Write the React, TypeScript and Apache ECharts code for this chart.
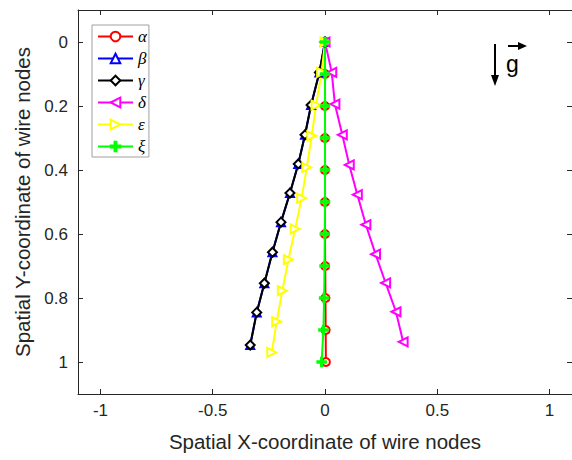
import React, { useEffect, useRef } from "react";
import * as echarts from "echarts";

const xTicks = [-1, -0.5, 0, 0.5, 1];
const yTicks = [0, 0.2, 0.4, 0.6, 0.8, 1];

const seriesNames = ["α", "β", "γ", "δ", "ε", "ξ"];

const alphaX = [0, 0, 0, 0, 0, 0, 0, 0.001, 0.002, 0.003, 0.004];
const alphaY = [0, 0.1, 0.2, 0.3, 0.4, 0.5, 0.6, 0.7, 0.8, 0.9, 1.0];
const betaX = [0, -0.025, -0.062, -0.089, -0.119, -0.156, -0.196, -0.234, -0.27, -0.304, -0.333];
const betaY = [0, 0.095, 0.197, 0.29, 0.381, 0.472, 0.563, 0.657, 0.754, 0.845, 0.947];
const gammaX = [0, -0.025, -0.062, -0.089, -0.119, -0.156, -0.196, -0.234, -0.27, -0.304, -0.333];
const gammaY = [0, 0.095, 0.197, 0.29, 0.381, 0.472, 0.563, 0.657, 0.754, 0.845, 0.947];
const deltaX = [0, 0.03, 0.044, 0.077, 0.108, 0.144, 0.182, 0.225, 0.27, 0.316, 0.348];
const deltaY = [0, 0.095, 0.194, 0.29, 0.384, 0.477, 0.571, 0.663, 0.753, 0.843, 0.937];
const epsX = [0, -0.015, -0.04, -0.059, -0.081, -0.104, -0.133, -0.163, -0.19, -0.215, -0.237];
const epsY = [0, 0.095, 0.197, 0.293, 0.392, 0.488, 0.584, 0.68, 0.777, 0.874, 0.97];
const xiX = [0, 0, 0, 0, 0, 0, -0.001, -0.002, -0.004, -0.007, -0.015];
const xiY = [0, 0.1, 0.2, 0.3, 0.4, 0.5, 0.6, 0.7, 0.8, 0.9, 1.0];

const PLUS = "path://M4,0H6V4H10V6H6V10H4V6H0V4H4Z";

function zip(xs: number[], ys: number[]) {
  return xs.map((x, i) => [x, ys[i]]);
}

export default function App() {
  const ref = useRef<HTMLDivElement>(null);
  useEffect(() => {
    if (!ref.current) return;
    const chart = echarts.init(ref.current, null, { renderer: "svg" });
    const axisColor = "#262626";
    const mk = (
      name: string,
      xs: number[],
      ys: number[],
      color: string,
      symbol: string,
      rotate = 0,
      size = 8
    ) => ({
      type: "line",
      name,
      data: zip(xs, ys),
      symbol,
      symbolSize: size,
      symbolRotate: rotate,
      showAllSymbol: true,
      lineStyle: { color, width: 2 },
      itemStyle: { color, borderColor: color, borderWidth: 1.5 },
      emphasis: { disabled: true },
    });
    const axisCommon = {
      axisLine: { show: true, onZero: false, lineStyle: { color: axisColor, width: 1 } },
      splitLine: { show: false },
    };
    chart.setOption({
      animation: false,
      backgroundColor: "#ffffff",
      grid: { left: 78, right: 0, top: 10, bottom: 66, containLabel: false },
      legend: {
        orient: "vertical",
        left: 92,
        top: 25,
        data: seriesNames,
        itemWidth: 35,
        itemHeight: 12,
        itemGap: 5,
        padding: [3, 2, 2, 5],
        borderColor: "#a0a0a0",
        borderWidth: 1,
        backgroundColor: "#ffffff",
        textStyle: {
          fontFamily: "Liberation Serif",
          fontStyle: "italic",
          fontSize: 17,
          lineHeight: 15,
          color: "#000",
        },
      },
      xAxis: [
        {
          type: "value",
          min: -1.1,
          max: 1.1,
          position: "bottom",
          ...axisCommon,
          axisTick: { show: true, inside: true, length: 5, customValues: xTicks, lineStyle: { color: axisColor } },
          axisLabel: {
            customValues: xTicks,
            color: axisColor,
            fontSize: 17,
            fontFamily: "Liberation Sans",
            margin: 8,
          },
          name: "Spatial X-coordinate of wire nodes",
          nameLocation: "middle",
          nameGap: 37,
          nameTextStyle: { color: axisColor, fontSize: 20.5, fontFamily: "Liberation Sans" },
        },
        {
          type: "value",
          min: -1.1,
          max: 1.1,
          position: "top",
          ...axisCommon,
          axisTick: { show: true, inside: true, length: 5, customValues: xTicks, lineStyle: { color: axisColor } },
          axisLabel: { show: false },
        },
      ],
      yAxis: [
        {
          type: "value",
          min: -0.1,
          max: 1.1,
          inverse: true,
          position: "left",
          ...axisCommon,
          axisTick: { show: true, inside: true, length: 5, customValues: yTicks, lineStyle: { color: axisColor } },
          axisLabel: {
            customValues: yTicks,
            color: axisColor,
            fontSize: 17,
            fontFamily: "Liberation Sans",
            margin: 10,
          },
          name: "Spatial Y-coordinate of wire nodes",
          nameLocation: "middle",
          nameGap: 40,
          nameTextStyle: { color: axisColor, fontSize: 20.5, fontFamily: "Liberation Sans" },
        },
        {
          type: "value",
          min: -0.1,
          max: 1.1,
          inverse: true,
          position: "right",
          ...axisCommon,
          axisTick: { show: true, inside: true, length: 5, customValues: yTicks, lineStyle: { color: axisColor } },
          axisLabel: { show: false },
        },
      ],
      series: [
        mk(seriesNames[0], alphaX, alphaY, "#ff0000", "emptyCircle", 0, 8),
        mk(seriesNames[1], betaX, betaY, "#0000ff", "emptyTriangle", 0, 8),
        mk(seriesNames[2], gammaX, gammaY, "#000000", "emptyDiamond", 0, 9),
        mk(seriesNames[3], deltaX, deltaY, "#ff00ff", "emptyTriangle", 90, 9),
        mk(seriesNames[4], epsX, epsY, "#ffff00", "emptyTriangle", -90, 9),
        mk(seriesNames[5], xiX, xiY, "#00ff00", PLUS, 0, 9),
      ],
      graphic: [
        {
          type: "line",
          shape: { x1: 495, y1: 44, x2: 495, y2: 78 },
          style: { stroke: "#000", lineWidth: 2 },
        },
        {
          type: "polygon",
          shape: { points: [[491, 75], [499, 75], [495, 86]] },
          style: { fill: "#000" },
        },
        {
          type: "line",
          shape: { x1: 508, y1: 46, x2: 520, y2: 46 },
          style: { stroke: "#000", lineWidth: 2 },
        },
        {
          type: "polygon",
          shape: { points: [[518, 42], [518, 50], [527, 46]] },
          style: { fill: "#000" },
        },
        {
          type: "text",
          x: 506,
          y: 52,
          style: { text: "g", fontSize: 23, fontFamily: "Liberation Sans", fill: "#000" },
        },
      ],
    });
    return () => chart.dispose();
  }, []);
  return (
    <div
      ref={ref}
      style={{ position: "fixed", left: 0, top: 0, width: 572, height: 460 }}
    />
  );
}
